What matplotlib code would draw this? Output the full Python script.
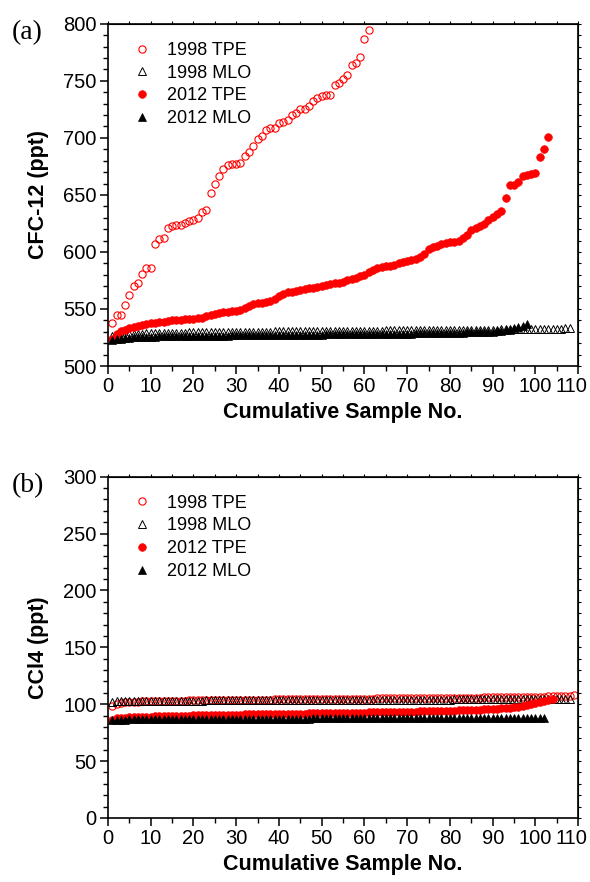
import matplotlib
matplotlib.use("Agg")
import matplotlib.pyplot as plt
from matplotlib.ticker import MultipleLocator, FuncFormatter

plt.rcParams['font.family'] = ['Liberation Sans', 'DejaVu Sans']

# ---- panel (a): CFC-12 ----
cfc_tpe_1998 = [538, 545, 545, 553.5, 562, 570, 572.5, 581, 586, 586,
                607, 611, 612, 621, 623, 624, 624, 625, 627, 628,
                630, 635, 637, 652, 660, 667, 672.5, 676, 677, 677,
                678, 684, 688, 693, 699, 702, 707, 709, 709, 713,
                713.5, 716, 720, 722, 725, 725, 728, 732, 735, 737,
                738, 738, 746, 748, 751.5, 755, 764, 765.5, 771, 786.5,
                795]

cfc_mlo_1998 = [526, 527, 527.5, 528, 528, 528.2, 528.4, 528.5, 528.6, 528.7,
                528.8, 528.9, 529, 529, 529.1, 529.2, 529.2, 529.3, 529.4, 529.4,
                529.5, 529.5, 529.6, 529.6, 529.7, 529.7, 529.8, 529.8, 529.9, 529.9,
                530, 530, 530, 530.1, 530.1, 530.2, 530.2, 530.2, 530.3, 530.3,
                530.4, 530.4, 530.4, 530.5, 530.5, 530.5, 530.6, 530.6, 530.6, 530.7,
                530.7, 530.7, 530.8, 530.8, 530.8, 530.9, 530.9, 530.9, 531, 531,
                531, 531.1, 531.1, 531.1, 531.2, 531.2, 531.2, 531.3, 531.3, 531.3,
                531.4, 531.4, 531.4, 531.5, 531.5, 531.5, 531.6, 531.6, 531.6, 531.7,
                531.7, 531.7, 531.8, 531.8, 531.8, 531.9, 531.9, 531.9, 532, 532,
                532, 532.1, 532.1, 532.2, 532.2, 532.3, 532.3, 532.4, 532.4, 532.5,
                532.5, 532.6, 532.6, 532.7, 532.8, 532.9, 533, 533.2]

cfc_tpe_2012 = [524, 528, 531, 532, 533, 534, 535, 536, 537, 537.5,
                538, 538.5, 539, 539.5, 540, 540, 540.5, 541, 541, 541.5, 542, 542,
                543.5, 545, 546, 546.5, 547, 547.5, 548, 548.5, 549,
                551, 553, 554, 555, 555.5, 556, 557,
                559, 561, 563, 564.5, 565, 566, 567,
                567.5, 568, 568.5, 569, 570,
                571, 572, 572.5, 573, 574,
                575, 576, 577.5, 579, 580,
                582, 584, 586,
                587, 587.5, 588, 589, 590,
                591, 592, 593, 594, 596, 598,
                603, 604, 605.5, 607, 607.5, 608.5, 609,
                610, 612, 615, 619, 621, 623, 624.5, 628, 631, 633, 635.5,
                647, 659, 659, 661, 666.5, 667.5, 668, 669, 683, 690.5, 700.5]

cfc_mlo_2012 = [523, 523.5, 524, 524.5, 525, 525.2, 525.4, 525.5, 525.6, 525.7,
                525.8, 525.9, 526, 526, 526.1, 526.1, 526.2, 526.2, 526.3, 526.3,
                526.4, 526.4, 526.5, 526.5, 526.6, 526.6, 526.7, 526.7, 526.8, 526.8,
                526.9, 526.9, 527, 527, 527, 527.1, 527.1, 527.2, 527.2, 527.2,
                527.3, 527.3, 527.4, 527.4, 527.4, 527.5, 527.5, 527.6, 527.6, 527.6,
                527.7, 527.7, 527.8, 527.8, 527.8, 527.9, 527.9, 528, 528, 528,
                528.1, 528.1, 528.2, 528.2, 528.2, 528.3, 528.3, 528.4, 528.4, 528.5,
                528.5, 528.6, 528.6, 528.7, 528.7, 528.8, 528.8, 528.9, 529, 529,
                529.1, 529.2, 529.3, 529.4, 529.5, 529.6, 529.7, 529.8, 530, 530.2,
                530.5, 531, 531.5, 532, 533, 534, 535.5, 537]

# ---- panel (b): CCl4 ----
ccl4_tpe_1998 = [98, 100.5, 101.2, 101.6, 101.9, 102.1, 102.3, 102.4, 102.5, 102.6,
                 102.7, 102.8, 102.9, 103, 103, 103.1, 103.2, 103.2, 103.3, 103.3,
                 103.4, 103.4, 103.5, 103.5, 103.6, 103.6, 103.7, 103.7, 103.8, 103.8,
                 103.9, 103.9, 104, 104, 104, 104.1, 104.1, 104.1, 104.2, 104.2,
                 104.2, 104.3, 104.3, 104.3, 104.4, 104.4, 104.4, 104.5, 104.5, 104.5,
                 104.6, 104.6, 104.6, 104.7, 104.7, 104.7, 104.8, 104.8, 104.8, 104.9,
                 104.9, 104.9, 105, 105, 105, 105.1, 105.1, 105.1, 105.2, 105.2,
                 105.2, 105.3, 105.3, 105.3, 105.4, 105.4, 105.4, 105.5, 105.5, 105.5,
                 105.6, 105.6, 105.6, 105.7, 105.7, 105.8, 105.8, 105.9, 105.9, 106,
                 106, 106.1, 106.1, 106.2, 106.2, 106.3, 106.3, 106.4, 106.5, 106.5,
                 106.6, 106.7, 106.8, 106.9, 107, 107.1, 107.3, 107.6, 108.3]

ccl4_mlo_1998 = [102.3, 102.5, 102.6, 102.7, 102.7, 102.8, 102.8, 102.9, 102.9, 102.9,
                 103, 103, 103, 103, 103.1, 103.1, 103.1, 103.1, 103.2, 103.2,
                 103.2, 103.2, 103.3, 103.3, 103.3, 103.3, 103.3, 103.4, 103.4, 103.4,
                 103.4, 103.4, 103.5, 103.5, 103.5, 103.5, 103.5, 103.5, 103.6, 103.6,
                 103.6, 103.6, 103.6, 103.6, 103.7, 103.7, 103.7, 103.7, 103.7, 103.7,
                 103.8, 103.8, 103.8, 103.8, 103.8, 103.8, 103.8, 103.9, 103.9, 103.9,
                 103.9, 103.9, 103.9, 103.9, 104, 104, 104, 104, 104, 104,
                 104, 104, 104.1, 104.1, 104.1, 104.1, 104.1, 104.1, 104.1, 104.1,
                 104.2, 104.2, 104.2, 104.2, 104.2, 104.2, 104.2, 104.3, 104.3, 104.3,
                 104.3, 104.3, 104.3, 104.4, 104.4, 104.4, 104.4, 104.4, 104.5, 104.5,
                 104.5, 104.5, 104.6, 104.6, 104.7, 104.7, 104.8, 104.9]

ccl4_tpe_2012 = [86.5, 87.5, 88, 88.3, 88.5, 88.7, 88.8, 88.9, 89, 89.1,
                 89.2, 89.3, 89.4, 89.5, 89.6, 89.7, 89.8, 89.9, 90, 90.1,
                 90.2, 90.3, 90.3, 90.4, 90.5, 90.6, 90.6, 90.7, 90.8, 90.9,
                 90.9, 91, 91.1, 91.1, 91.2, 91.3, 91.3, 91.4, 91.5, 91.5,
                 91.6, 91.6, 91.7, 91.7, 91.8, 91.8, 91.9, 91.9, 92, 92,
                 92.1, 92.1, 92.2, 92.3, 92.3, 92.4, 92.4, 92.5, 92.6, 92.6,
                 92.7, 92.8, 92.8, 92.9, 93, 93, 93.1, 93.2, 93.3, 93.3,
                 93.4, 93.5, 93.6, 93.7, 93.8, 93.9, 94, 94.1, 94.2, 94.3,
                 94.4, 94.5, 94.6, 94.7, 94.9, 95, 95.2, 95.4, 95.6, 95.8,
                 96, 96.3, 96.6, 97, 97.4, 97.9, 98.5, 99.2, 100, 100.8,
                 101.6, 102.5, 103.3, 104.2]

ccl4_mlo_2012 = [85.8, 86.2, 86.4, 86.5, 86.6, 86.6, 86.7, 86.7, 86.8, 86.8,
                 86.8, 86.9, 86.9, 86.9, 86.9, 87, 87, 87, 87, 87,
                 87.1, 87.1, 87.1, 87.1, 87.1, 87.2, 87.2, 87.2, 87.2, 87.2,
                 87.2, 87.3, 87.3, 87.3, 87.3, 87.3, 87.3, 87.3, 87.4, 87.4,
                 87.4, 87.4, 87.4, 87.4, 87.4, 87.4, 87.4, 87.5, 87.5, 87.5,
                 87.5, 87.5, 87.5, 87.5, 87.5, 87.5, 87.5, 87.5, 87.6, 87.6,
                 87.6, 87.6, 87.6, 87.6, 87.6, 87.6, 87.6, 87.6, 87.6, 87.6,
                 87.6, 87.6, 87.7, 87.7, 87.7, 87.7, 87.7, 87.7, 87.7, 87.7,
                 87.7, 87.7, 87.7, 87.7, 87.8, 87.8, 87.8, 87.8, 87.8, 87.8,
                 87.8, 87.8, 87.8, 87.8, 87.8, 87.9, 87.9, 87.9, 87.9, 88,
                 88, 88.1]

labels = ['1998 TPE', '1998 MLO', '2012 TPE', '2012 MLO']


def draw_panel(ax, series, ylim, ylabel, tag):
    styles = [dict(marker='o', color='red', mfc='none', ms=5.2, mew=0.8),
              dict(marker='^', color='black', mfc='none', ms=5.5, mew=0.7),
              dict(marker='o', color='red', mfc='red', ms=5.5, mew=0.5),
              dict(marker='^', color='black', mfc='black', ms=5.5, mew=0.5)]
    for vals, lab, st in zip(series, labels, styles):
        ax.plot(range(1, len(vals) + 1), vals, ls='none', label=lab, **st)

    ax.set_xlim(0, 110)
    ax.set_ylim(*ylim)
    ax.xaxis.set_major_locator(MultipleLocator(10))
    ax.xaxis.set_minor_locator(MultipleLocator(5))
    ax.yaxis.set_major_locator(MultipleLocator(50))
    ax.yaxis.set_minor_locator(MultipleLocator(10))
    # the "110" label would hang off the figure edge; it is drawn separately below
    ax.xaxis.set_major_formatter(FuncFormatter(lambda v, p: '' if v >= 110 else f'{v:.0f}'))
    ax.tick_params(which='major', direction='out', length=6, width=1.1, labelsize=14.5, pad=2)
    ax.tick_params(which='minor', direction='out', length=3.5, width=1.0)
    for s in ax.spines.values():
        s.set_linewidth(1.2)
    ax.annotate('110', xy=(1, 0), xycoords='axes fraction', xytext=(-5, -8),
                textcoords='offset points', ha='center', va='top', fontsize=14.5)

    top = ax.secondary_xaxis('top')
    top.xaxis.set_major_locator(MultipleLocator(5))
    top.tick_params(direction='out', length=2, width=0.8, labeltop=False)
    right = ax.secondary_yaxis('right')
    right.yaxis.set_major_locator(MultipleLocator(10))
    right.tick_params(direction='out', length=2, width=0.8, labelright=False)

    ax.set_xlabel('Cumulative Sample No.', fontsize=15.5, fontweight='bold', labelpad=4)
    ax.set_ylabel(ylabel, fontsize=15.5, fontweight='bold', labelpad=10)

    ax.legend(loc='upper left', frameon=False, fontsize=13, handletextpad=0.8,
              labelspacing=0.32, borderaxespad=0.6, bbox_to_anchor=(0.01, 1.0),
              handlelength=1.2)
    ax.text(-0.205, 0.975, tag, transform=ax.transAxes, fontsize=20,
            family='Liberation Serif', va='center', ha='left')


fig = plt.figure(figsize=(5.9, 8.82), dpi=100)
ax1 = fig.add_axes([0.183, 0.585, 0.797, 0.388])
ax2 = fig.add_axes([0.183, 0.0726, 0.797, 0.387])

draw_panel(ax1, [cfc_tpe_1998, cfc_mlo_1998, cfc_tpe_2012, cfc_mlo_2012],
           (500, 800), 'CFC-12 (ppt)', '(a)')
draw_panel(ax2, [ccl4_tpe_1998, ccl4_mlo_1998, ccl4_tpe_2012, ccl4_mlo_2012],
           (0, 300), 'CCl4 (ppt)', '(b)')

fig.savefig('out.png', dpi=100)
